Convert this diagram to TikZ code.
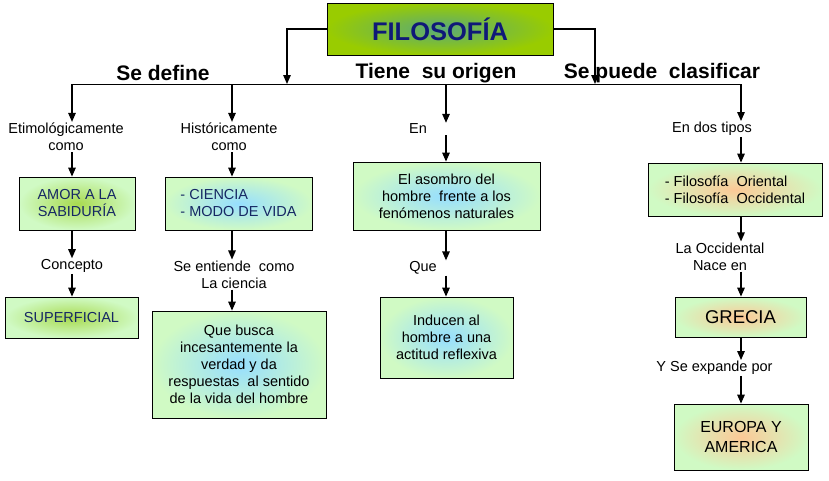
\documentclass[tikz,border=0pt]{standalone}
\usepackage{fontspec}
\setmainfont{Liberation Sans}
\usetikzlibrary{arrows.meta}
\definecolor{boxfill}{RGB}{208,250,196}
\definecolor{glowgreen}{RGB}{168,218,80}
\definecolor{glowblue}{RGB}{150,222,255}
\definecolor{gloworange}{RGB}{252,200,150}
\definecolor{titlefill}{RGB}{153,204,0}
\definecolor{titleglow}{RGB}{90,170,120}
\definecolor{navytext}{RGB}{22,40,100}
\definecolor{titletext}{RGB}{15,25,120}
\tikzset{
  arr/.style={-{Triangle[length=9pt,width=7.5pt]}, line width=1.3pt},
  box/.style={draw, line width=0.8pt, outer color=boxfill, align=center, inner sep=2pt,
              font=\fontsize{14.5}{17}\selectfont},
  greenbox/.style={box, inner color=glowgreen},
  bluebox/.style={box, inner color=glowblue},
  orangebox/.style={box, inner color=gloworange},
  lbl/.style={align=center, inner sep=1pt, font=\fontsize{14.5}{17}\selectfont},
  head/.style={inner sep=1pt, font=\bfseries\fontsize{21}{25}\selectfont}
}
\begin{document}
\begin{tikzpicture}[x=1pt, y=-1pt]
  \useasboundingbox (0,0) rectangle (829,480);
  \node[draw, line width=0.8pt, outer color=titlefill, inner color=titleglow,
        minimum width=226pt, minimum height=52pt, text=titletext,
        font=\bfseries\fontsize{25.5}{30}\selectfont] (tit) at (440,29) {FILOSOFÍA};
  \coordinate (c1) at (72,84);
  \coordinate (c2) at (232,84);
  \coordinate (c3) at (446,84);
  \coordinate (c4) at (741,84);
  \coordinate (lft) at (287,84);
  \coordinate (rgt) at (595,84);
  \draw[line width=1pt] (c1) -- (c4);
  \draw[arr] (tit.west) -| (lft);
  \draw[arr] (tit.east) -| (rgt);
  \node[head] (sedef) at (163,73) {Se define};
  \node[head] (origen) at (436,73) {Tiene\ \ su origen};
  \node[head] (clasif) at (662,73) {Se puede\ \ clasificar};

  \node[lbl] (etim) at (66,137) {Etimológicamente\\como};
  \node[greenbox, minimum width=116pt, minimum height=53pt, text=navytext] (amor) at (77,203.5) {AMOR A LA\\SABIDURÍA};
  \node[lbl] (conc) at (72,266) {Concepto};
  \node[greenbox, minimum width=133pt, minimum height=41pt, text=navytext] (sup) at (71.5,317.5) {SUPERFICIAL};
  \draw[arr] (c1) -- (etim.north -| c1);
  \draw[arr] (etim.south -| c1) -- (amor.north -| c1);
  \draw[arr] (amor.south -| c1) -- (conc.north -| c1);
  \draw[arr] (conc.south -| c1) -- (sup.north -| c1);

  \node[lbl] (hist) at (229,137) {Históricamente\\como};
  \node[bluebox, minimum width=147pt, minimum height=53pt, text=navytext, align=left] (cien) at (238.5,203.5) {- CIENCIA\\- MODO DE VIDA};
  \node[lbl] (ent) at (234,274.5) {Se entiende\ \ como\\La ciencia};
  \node[bluebox, minimum width=174pt, minimum height=107pt] (busca) at (239,364.5) {Que busca\\incesantemente la\\verdad y da\\respuestas\ \ al sentido\\de la vida del hombre};
  \draw[arr] (c2) -- (hist.north -| c2);
  \draw[arr] (hist.south -| c2) -- (cien.north -| c2);
  \draw[arr] (cien.south -| c2) -- (ent.north -| c2);
  \draw[arr] (ent.south -| c2) -- (busca.north -| c2);

  \node[lbl] (en) at (418,129) {En};
  \node[bluebox, minimum width=187pt, minimum height=68pt] (asom) at (446.5,196) {El asombro del\\hombre\ \ frente a los\\fenómenos naturales};
  \node[lbl] (que) at (423,268) {Que};
  \node[bluebox, minimum width=133pt, minimum height=81pt] (ind) at (446.5,337.5) {Inducen al\\hombre a una\\actitud reflexiva};
  \draw[arr] (c3) -- (en.north -| c3);
  \draw[arr] (en.south -| c3) -- (asom.north -| c3);
  \draw[arr] (asom.south -| c3) -- (que.north -| c3);
  \draw[arr] (que.south -| c3) -- (ind.north -| c3);

  \node[lbl] (tipos) at (712,129) {En dos tipos};
  \node[orangebox, minimum width=174pt, minimum height=53pt, align=left] (fil) at (735,189.5) {- Filosofía\ \ Oriental\\- Filosofía\ \ Occidental};
  \node[lbl] (nace) at (720,256.5) {La Occidental\\Nace en};
  \node[orangebox, minimum width=131pt, minimum height=40pt, font=\fontsize{18.5}{22}\selectfont] (grec) at (740.5,317) {GRECIA};
  \node[lbl] (exp) at (714.5,368) {Y Se expande por};
  \node[orangebox, minimum width=134pt, minimum height=66pt, font=\fontsize{16}{20}\selectfont] (eur) at (741,437) {EUROPA Y\\AMERICA};
  \draw[arr] (c4) -- (tipos.north -| c4);
  \draw[arr] (tipos.south -| c4) -- (fil.north -| c4);
  \draw[arr] (fil.south -| c4) -- (nace.north -| c4);
  \draw[arr] (nace.south -| c4) -- (grec.north -| c4);
  \draw[arr] (grec.south -| c4) -- (exp.north -| c4);
  \draw[arr] (exp.south -| c4) -- (eur.north -| c4);
\end{tikzpicture}
\end{document}
